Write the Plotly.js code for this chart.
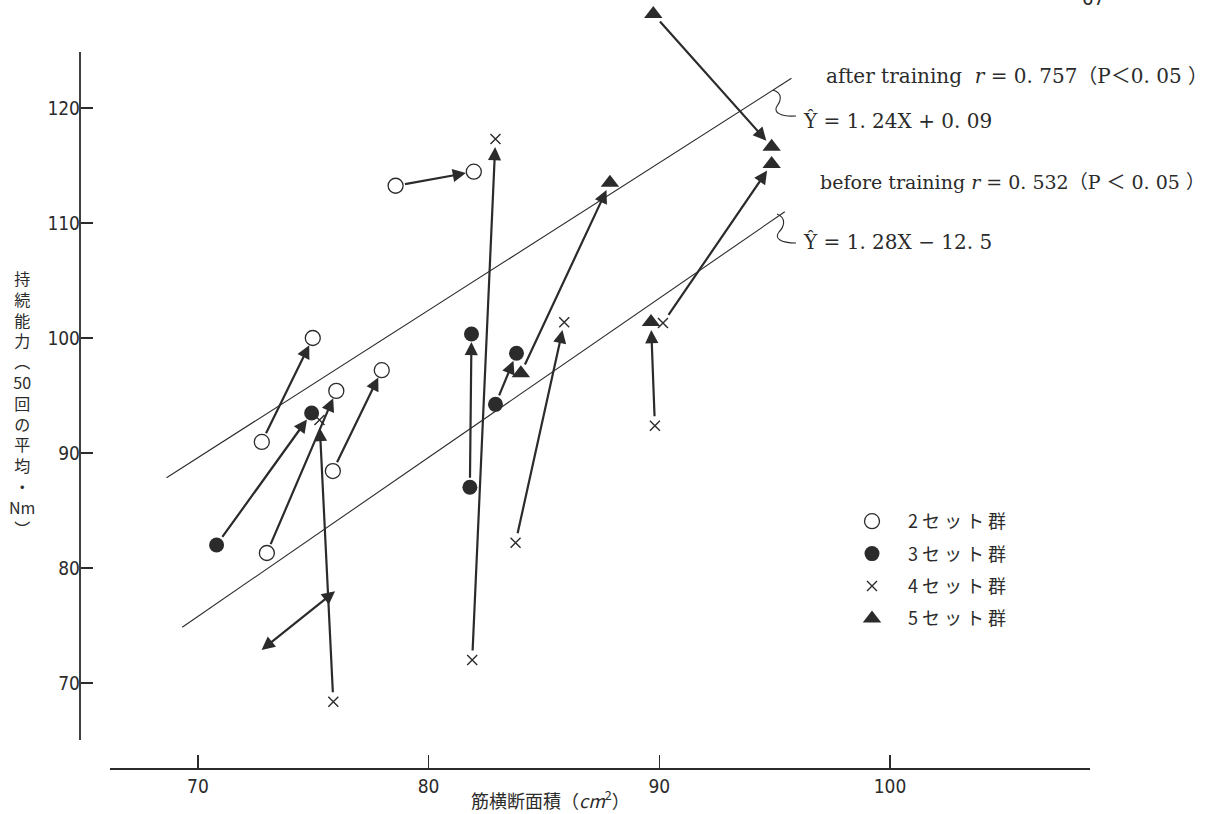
<!DOCTYPE html>
<html>
<head>
<meta charset="utf-8">
<script src="https://cdn.plot.ly/plotly-3.0.1.min.js"></script>
<style>html,body{margin:0;padding:0;background:#fff;}#chart{width:1217px;height:814px;}</style>
</head>
<body>
<div id="chart"></div>
<script>
// ---- data ----
const groupNames = ["2 セ ッ ト 群", "3 セ ッ ト 群", "4 セ ッ ト 群", "5 セ ッ ト 群"];

const set2X = [72.77, 74.98, 72.99, 76.0, 75.85, 77.97, 78.57, 81.96];
const set2Y = [90.96, 100.0, 81.3, 95.4, 88.43, 97.2, 113.24, 114.46];

const set3X = [70.81, 74.93, 81.79, 81.86, 82.9, 83.81];
const set3Y = [82.0, 93.48, 87.02, 100.35, 94.23, 98.67];

const set4X = [75.87, 75.27, 81.89, 82.9, 83.77, 85.88, 89.81, 90.16];
const set4Y = [68.37, 92.87, 72.0, 117.3, 82.2, 101.37, 92.37, 101.3];

const set5X = [89.74, 94.87, 94.87, 84.0, 87.86, 89.64];
const set5Y = [128.17, 116.64, 115.13, 96.93, 113.5, 101.39];

// arrows: before -> after
const arrowFromX = [72.77, 72.99, 75.85, 78.57, 70.81, 81.79, 82.9, 75.87, 81.89, 83.77, 89.81, 90.16, 89.74, 84.0, 76.01];
const arrowFromY = [90.96, 81.3, 88.43, 113.24, 82.0, 87.02, 94.23, 68.37, 72.0, 82.2, 92.37, 101.3, 128.17, 96.93, 78.09];
const arrowToX   = [74.98, 76.0, 77.97, 81.96, 74.93, 81.86, 83.81, 75.27, 82.9, 85.88, 89.64, 94.87, 94.87, 87.86, 72.76];
const arrowToY   = [100.0, 95.4, 97.2, 114.46, 93.48, 100.35, 98.67, 92.87, 117.3, 101.37, 101.39, 115.13, 116.64, 113.5, 72.87];
const arrowSides = ["end","end","end","end","end","end","end","end","end","end","end","end","end","end","end+start"];

// regression lines as drawn
const afterLineX = [68.64, 95.73];
const afterLineY = [87.85, 122.58];
const beforeLineX = [69.32, 95.44];
const beforeLineY = [74.84, 110.98];

const xTicks = [70, 80, 90, 100];
const yTicks = [70, 80, 90, 100, 110, 120];
const yAxisMin = 65.04, yAxisMax = 124.87;

const afterText = "after training  <i>r</i> = 0. 757（P＜0. 05 ）";
const afterEq = "Ŷ = 1. 24X + 0. 09";
const beforeText = "before training <i>r</i> = 0. 532（P ＜ 0. 05 ）";
const beforeEq = "Ŷ = 1. 28X − 12. 5";
const xTitle = "筋横断面積（<i>cm</i><sup>2</sup>）";
const yTitleChars = ["持","続","能","力","︵","50","回","の","平","均","・","Nm","︶"];
const pageNumber = "67";

// ---- layout helpers (pixel -> paper) ----
const W = 1217, H = 814;
const L = 80, R = 1090, T = 8, B = 768;
const px = v => (v - L) / (R - L);
const py = v => (B - v) / (B - T);

const ink = "#2b2b2b";
const numFont = "Liberation Sans Narrow, DejaVu Sans Condensed, Liberation Sans, sans-serif";
const serif = "DejaVu Serif, Liberation Serif, Noto Sans CJK JP, serif";
const cjk = "Noto Sans CJK JP, sans-serif";

const traces = [
  {x: afterLineX, y: afterLineY, mode: "lines", line: {color: ink, width: 1.1}, showlegend: false, hoverinfo: "skip"},
  {x: beforeLineX, y: beforeLineY, mode: "lines", line: {color: ink, width: 1.1}, showlegend: false, hoverinfo: "skip"},
  {x: set2X, y: set2Y, mode: "markers", name: groupNames[0], legendgroup: "g2", cliponaxis: false,
   marker: {symbol: "circle", size: 15, color: "#ffffff", line: {color: ink, width: 1.3}}},
  {x: set3X, y: set3Y, mode: "markers", name: groupNames[1], legendgroup: "g3", cliponaxis: false,
   marker: {symbol: "circle", size: 15, color: ink}},
  {x: set4X, y: set4Y, mode: "markers", name: groupNames[2], legendgroup: "g4", cliponaxis: false,
   marker: {symbol: "x-thin-open", size: 10, color: ink, line: {color: ink, width: 1.4}}},
  {x: set5X, y: set5Y, mode: "markers", name: groupNames[3], legendgroup: "g5", cliponaxis: false,
   marker: {symbol: "triangle-up", size: 16, color: ink}}
];

const annotations = [];
for (let i = 0; i < arrowFromX.length; i++) {
  const both = arrowSides[i] === "end+start";
  annotations.push({
    x: arrowToX[i], y: arrowToY[i], xref: "x", yref: "y",
    ax: arrowFromX[i], ay: arrowFromY[i], axref: "x", ayref: "y",
    text: "", showarrow: true, arrowhead: 2, arrowsize: 1.2, arrowwidth: 2.2,
    arrowcolor: ink, arrowside: arrowSides[i],
    startarrowhead: 2, startarrowsize: 1.2,
    standoff: both ? 0 : 8, startstandoff: both ? 0 : 8
  });
}
const txt = (text, x, y, size, family, anchor) => ({
  text: text, xref: "paper", yref: "paper", x: px(x), y: py(y), showarrow: false,
  xanchor: anchor || "left", yanchor: "middle", font: {family: family, size: size, color: ink}
});
annotations.push(txt(afterText, 824, 76, 20, serif));
annotations.push(txt(afterEq, 801, 121, 20, serif));
annotations.push(txt(beforeText, 818, 182, 19, serif));
annotations.push(txt(beforeEq, 801, 242, 20, serif));
annotations.push(txt(xTitle, 550, 799, 18, cjk, "center"));
annotations.push(txt(pageNumber, 1093, -2, 20, numFont, "center"));
annotations.push(txt(yTitleChars.join("<br>"), 22, 403, 16, cjk, "center"));

const P = (x, y) => px(x).toFixed(5) + "," + py(y).toFixed(5);
const shapes = [
  // y axis line (stops at the axis range, markers may sit above it)
  {type: "line", xref: "paper", yref: "y", x0: 0, x1: 0, y0: yAxisMin, y1: yAxisMax,
   line: {color: ink, width: 1.8}},
  {type: "path", xref: "paper", yref: "paper", line: {color: ink, width: 1.1},
   path: "M " + P(773, 90) + " C " + P(783, 93) + " " + P(781, 101) + " " + P(777, 106) +
         " C " + P(773, 112) + " " + P(780, 117) + " " + P(796, 116)},
  {type: "path", xref: "paper", yref: "paper", line: {color: ink, width: 1.1},
   path: "M " + P(777, 214) + " C " + P(787, 218) + " " + P(784, 227) + " " + P(779, 232) +
         " C " + P(774, 238) + " " + P(780, 243) + " " + P(796, 243)}
];

const layout = {
  width: W, height: H,
  margin: {l: L, r: W - R, t: T, b: H - B, pad: 0},
  paper_bgcolor: "#ffffff", plot_bgcolor: "rgba(0,0,0,0)",
  showlegend: true,
  legend: {x: px(836), y: py(503), xanchor: "left", yanchor: "top", tracegroupgap: 6, itemwidth: 62,
           font: {family: cjk, size: 18, color: ink}, bgcolor: "rgba(0,0,0,0)"},
  xaxis: {domain: [px(110), 1], range: [66.19, 108.67], anchor: "free", position: 0,
          showline: true, linecolor: ink, linewidth: 1.8, showgrid: false, zeroline: false,
          ticks: "inside", ticklen: 13, tickwidth: 1.5, tickcolor: ink,
          tickvals: xTicks, ticktext: xTicks.map(String),
          tickfont: {family: numFont, size: 19, color: ink}},
  yaxis: {domain: [py(740), 1], range: [yAxisMin, 120 + (108 - T) / 11.5], anchor: "free", position: 0,
          showline: false, showgrid: false, zeroline: false,
          ticks: "inside", ticklen: 12, tickwidth: 1.5, tickcolor: ink,
          tickvals: yTicks, ticktext: yTicks.map(String),
          tickfont: {family: numFont, size: 19, color: ink}},
  annotations: annotations,
  shapes: shapes
};

Plotly.newPlot("chart", traces, layout, {displayModeBar: false, staticPlot: true});
</script>
</body>
</html>
